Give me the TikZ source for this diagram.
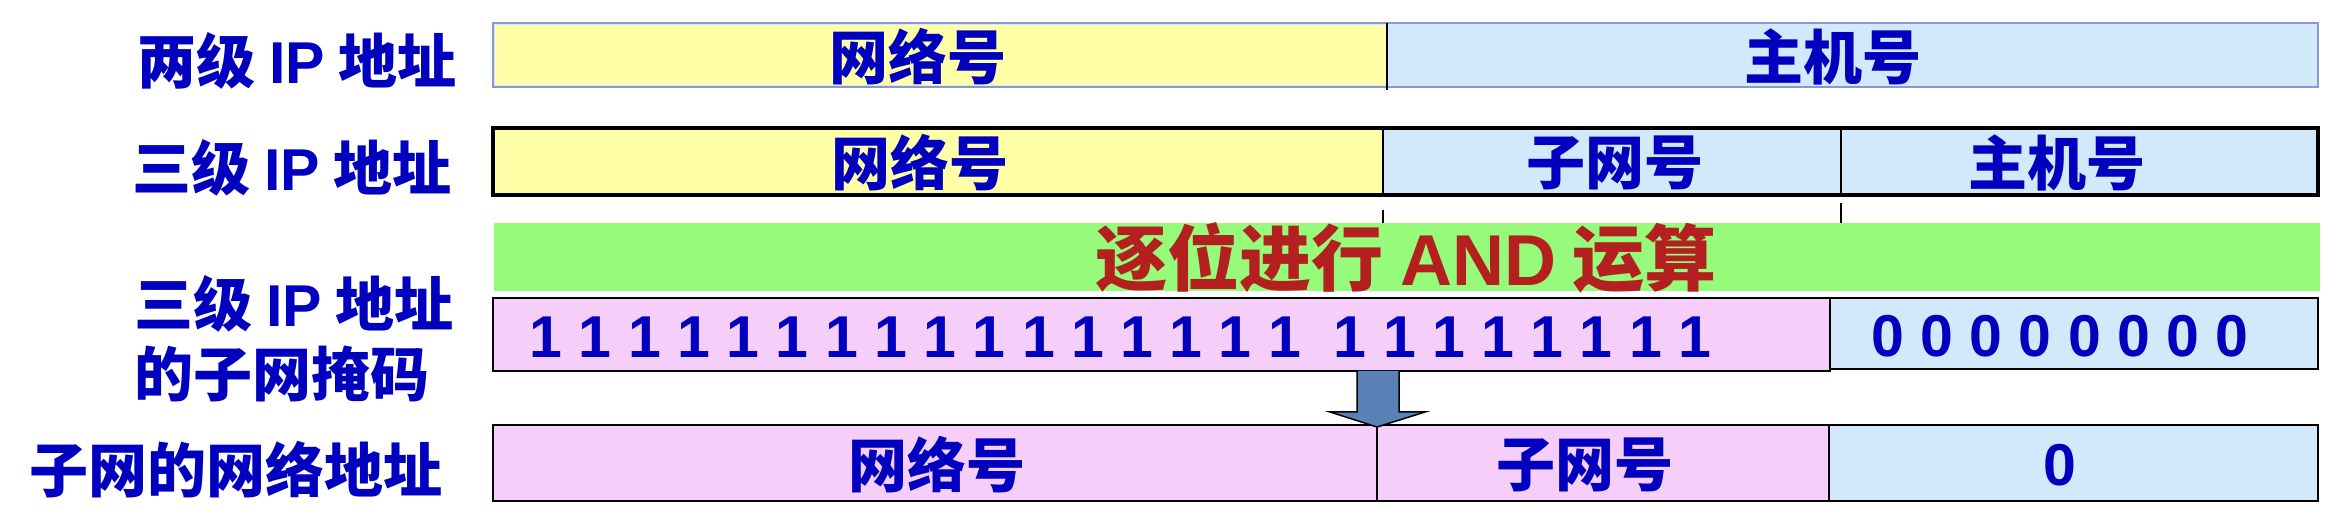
\documentclass[tikz,border=0pt]{standalone}
\usepackage{fontspec}
\newfontfamily\cjk{Noto Sans CJK SC}
\newfontfamily\lat{Liberation Sans}
\definecolor{ipblue}{RGB}{0,0,190}
\definecolor{netyellow}{RGB}{255,255,168}
\definecolor{hostblue}{RGB}{210,233,252}
\definecolor{maskpink}{RGB}{246,206,250}
\definecolor{andgreen}{RGB}{150,250,122}
\definecolor{andred}{RGB}{180,32,32}
\definecolor{arrowblue}{RGB}{90,128,182}
\definecolor{rimblue}{RGB}{140,150,210}
\newcommand{\ipsize}{\fontsize{16.8pt}{19.9pt}\selectfont}
\newcommand{\andsize}{\fontsize{20.5pt}{24pt}\selectfont}
\begin{document}
\begin{tikzpicture}[x=0.1mm, y=-0.1mm,
	lbl/.style={inner sep=0pt, text=ipblue, font=\cjk\bfseries\ipsize, anchor=west},
	txt/.style={inner sep=0pt, text=ipblue, font=\cjk\bfseries\ipsize},
	bits/.style={inner sep=0pt, text=ipblue, font=\lat\bfseries\ipsize},
	cell/.style={draw=black, line width=0.25mm}]
	\useasboundingbox (0,0) rectangle (2342,514);
	% 两级 IP 地址
	\fill[hostblue] (493,23) rectangle (2318,87);
	\fill[netyellow] (495,25) rectangle (1387,85);
	\draw[rimblue, line width=0.2mm] (493,23) rectangle (2318,87);
	\draw[line width=0.2mm] (1387,23) -- (1387,90);
	% 三级 IP 地址
	\fill[netyellow] (493,128) rectangle (1383,195);
	\fill[hostblue] (1383,128) rectangle (2318,195);
	\draw[line width=0.2mm] (1383,128) -- (1383,195) (1841,128) -- (1841,195);
	\draw[line width=0.4mm] (493,128) rectangle (2318,195);
	\draw[line width=0.2mm] (1383,210) -- (1383,223) (1841,203) -- (1841,223);
	% AND
	\fill[andgreen] (494,223) rectangle (2320,291);
	% 子网掩码
	\draw[cell, fill=maskpink] (493,298) rectangle (1830,371);
	\draw[cell, fill=hostblue] (1830,298) rectangle (2318,369);
	% 子网的网络地址
	\draw[cell, fill=maskpink] (493,425) rectangle (1829,501);
	\draw[cell, fill=hostblue] (1829,425) rectangle (2318,501);
	\draw[cell] (1377,425) -- (1377,501);
	\draw[fill=arrowblue, line width=0.15mm] (1357,371) -- (1357,412) -- (1330,412) -- (1377,427)
		-- (1425,412) -- (1399,412) -- (1399,371);
	\path
	(137,61) node[lbl] (two) {两级 {\lat IP} 地址}
	(132,168) node[lbl] (three) {三级 {\lat IP} 地址}
	(134,339) node[lbl, align=left] (masklbl) {三级 {\lat IP} 地址\\的子网掩码}
	(29,470) node[lbl] (sublbl) {子网的网络地址};
	\path
	(918,57) node[txt] (net1) {网络号}
	(1833,57) node[txt] (host1) {主机号}
	(920,163) node[txt] (net2) {网络号}
	(1615,163) node[txt] (sub2) {子网号}
	(2057,163) node[txt] (host2) {主机号}
	(1406,258) node[inner sep=0pt, text=andred, font=\cjk\bfseries\andsize] (andop) {逐位进行 {\lat AND} 运算}
	(529,337) node[bits, anchor=west] (ones) {1 1 1 1 1 1 1 1 1 1 1 1 1 1 1 1 \ 1 1 1 1 1 1 1 1}
	(2060,336) node[bits] (zeros) {0 0 0 0 0 0 0 0}
	(937,465) node[txt] (net3) {网络号}
	(1585,465) node[txt] (sub3) {子网号}
	(2060,465) node[bits] (zero3) {0};
\end{tikzpicture}
\end{document}
